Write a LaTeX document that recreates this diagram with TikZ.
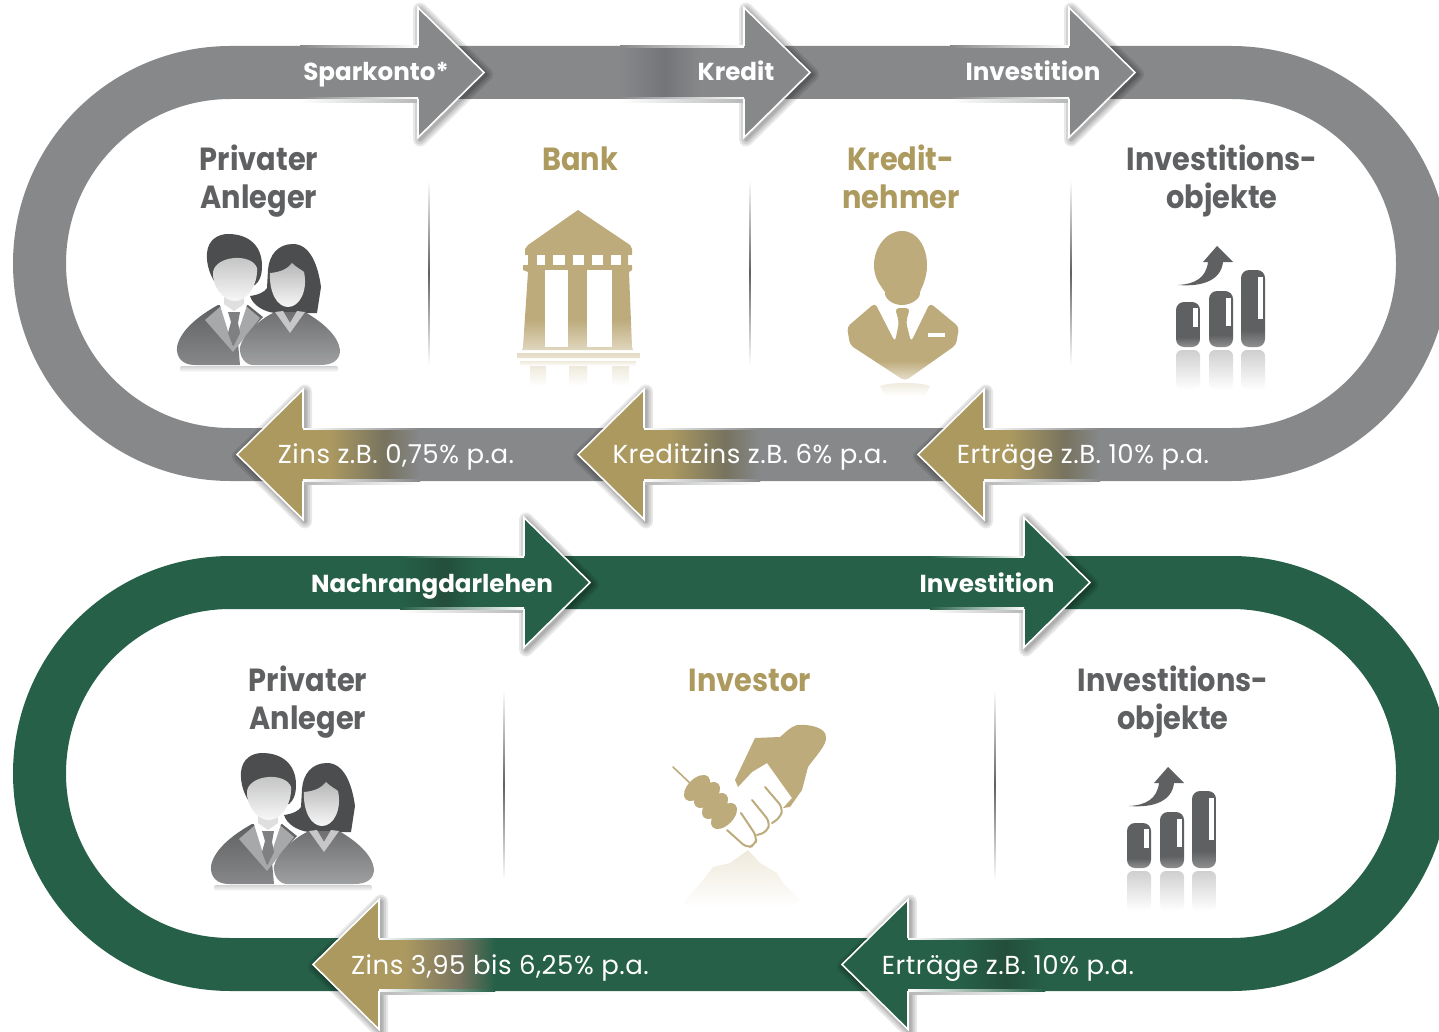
\documentclass[tikz,border=0pt]{standalone}
\usepackage{fontspec}
\setmainfont{Poppins}
\newfontfamily\titleFont{Poppins}[FakeStretch=0.9]
\newfontfamily\lightFont{Poppins}[LetterSpace=2]
\usetikzlibrary{shapes.geometric}
\definecolor{bandGray}{HTML}{86888A}
\definecolor{bandGreen}{HTML}{266048}
\definecolor{arrowGold}{HTML}{AB9960}
\definecolor{iconGold}{HTML}{BDAB7C}
\definecolor{fadeGold}{HTML}{E9E2CF}
\definecolor{textGold}{HTML}{AD9A5F}
\definecolor{textGray}{HTML}{5F6062}
\definecolor{patchGold}{HTML}{77735F}
\definecolor{patchGray}{HTML}{747578}
\definecolor{patchGreen}{HTML}{234E3B}
\pgfdeclareverticalshading{goldIcon}{100bp}{color(0bp)=(fadeGold); color(25bp)=(fadeGold); color(38bp)=(iconGold); color(100bp)=(iconGold)}
\pgfdeclareverticalshading{barIcon}{100bp}{color(0bp)=(textGray!70); color(25bp)=(textGray!70); color(36bp)=(textGray); color(100bp)=(textGray)}
\begin{document}
\begin{tikzpicture}
[x=0.5pt,y=-0.5pt,
ringDecorate/.style={line width=26.5pt},
whiteEdge/.style={white,line width=0.8pt,line join=miter},
titleDecorate/.style={font=\titleFont\fontsize{16}{19}\selectfont\bfseries,align=center,inner sep=0pt},
boldDecorate/.style={font=\fontsize{12.3}{15}\selectfont\bfseries,text=white,inner sep=0pt,anchor=base},
lightDecorate/.style={font=\lightFont\fontsize{13}{15}\selectfont,text=white,inner sep=0pt,anchor=base},
dividerDecorate/.style={top color=white,bottom color=white,middle color=textGray},
reflectGold/.style={top color=fadeGold!75,bottom color=white},
reflectGray/.style={top color=textGray!30,bottom color=white}]

\clip (0,0) rectangle (1439,1032);

 \foreach \ringy/\ringcol in {72.5/bandGray,582.5/bandGreen}
 {
          \draw[ringDecorate,draw=\ringcol] (230.5,\ringy) -- (1231.5,\ringy) arc[start angle=-90,end angle=90,radius=191] -- (230.5,\ringy+382) arc[start angle=90,end angle=270,radius=191] -- cycle;
 }

 \foreach \dx/\dtop/\dbot in {429/180/365,750/180/365,1071/180/365,504/690/880,995/690/880}
 {
          \shade[dividerDecorate] (\dx-0.7,\dtop) rectangle (\dx+0.7,\dbot);
 }

 \foreach \px/\py in {0/0,34/519}
 {
  \begin{scope}[shift={(\px,\py)}]
   \shade[top color=textGray!28,bottom color=white,rounded corners=1pt] (180,366) rectangle (338,372);
   \shade[top color=textGray!100,bottom color=textGray!75] (177,347) .. controls (180,330) and (200,315) .. (218,305) -- (248,305) -- (263,317) -- (238,343) -- (240,365) -- (195,365) .. controls (183,365) and (176,358) .. (177,347);
   \fill[textGray!55] (220,307) -- (247,307) -- (260,318) -- (233,352) -- (205,320) -- cycle;
   \fill[white] (220,305) -- (247,305) -- (233,347) -- cycle;
   \fill[textGray!80] (228,312) -- (240,312) -- (238,323) -- (240,333) -- (233,347) -- (228,333) -- (231,322) -- cycle;
   \fill[textGray!20] (224,292) -- (244,292) -- (244,304) -- (234,311) -- (224,304) -- cycle;
   \fill[textGray!80!black] (207,253) .. controls (208,240) and (218,234) .. (228,234) .. controls (248,234) and (262,245) .. (262,266) .. controls (262,276) and (259,282) .. (255,285) -- (217,285) .. controls (211,278) and (206,265) .. (207,253) -- cycle;
   \shade[top color=textGray!40,bottom color=textGray!5] (213,272) .. controls (216,255) and (252,253) .. (257,268) .. controls (258,285) and (247,301) .. (235,301) .. controls (222,301) and (212,285) .. (213,272) -- cycle;
   \fill[textGray!80!black] (250,296) .. controls (258,295) and (265,292) .. (267,288) -- (268,270) .. controls (269,255) and (278,244) .. (293,244) .. controls (310,244) and (318,265) .. (321,287) -- (317,313) -- (275,313) .. controls (265,312) and (253,306) .. (250,296) -- cycle;
   \shade[top color=textGray!45,bottom color=textGray!5] (270,273) .. controls (282,272) and (288,268) .. (292,263) .. controls (297,268) and (302,270) .. (304,272) .. controls (308,290) and (300,307) .. (288,307) .. controls (277,307) and (269,292) .. (270,273) -- cycle;
   \shade[top color=textGray!90,bottom color=textGray!60] (240,347) .. controls (243,335) and (258,320) .. (275,312) -- (305,312) .. controls (322,322) and (338,335) .. (340,350) .. controls (340,360) and (333,365) .. (320,365) -- (253,365) .. controls (245,365) and (239,356) .. (240,347) -- cycle;
   \fill[textGray!35] (275,312) -- (290,333) -- (305,312) -- (297,311) -- (290,323) -- (283,311) -- cycle;
  \end{scope}
 }

 \shade[shading=goldIcon] (578,210) -- (630,245) -- (632,249) -- (632,255) -- (628,255) -- (628,265) -- (632,265) -- (632,270) -- (629,272) -- (632,347) -- (633,350) -- (522,350) -- (523,347) -- (528,272) -- (523,270) -- (523,265) -- (528,265) -- (528,255) -- (525,255) -- (525,249) -- (528,245) -- cycle
 (517,353) rectangle (640,358);
 \foreach \wx/\wy/\ww/\wh in {537/255/8/10,553/255/12/10,573/255/11/10,592/255/11/10,611/255/10/10,545/270/23/77,587/270/25/77}
 {
          \fill[white] (\wx,\wy) rectangle (\wx+\ww,\wy+\wh);
 }
 \shade[reflectGold] (520,361) rectangle (636,366);
 \foreach \rx/\rw in {530/16,569/18,612/17}
 {
          \shade[reflectGold] (\rx,366) rectangle (\rx+\rw,386);
 }

 \shade[shading=goldIcon,rounded corners=2pt] (847,327) -- (875,303) -- (895,342) -- (899,322) -- (895,308) -- (910,308) -- (906,322) -- (911,342) -- (930,303) -- (959,327) -- (956,345) -- (905,381) -- (850,345) -- cycle;
 \fill[iconGold] (902,231) .. controls (918,231) and (927,248) .. (927,265) .. controls (927,278) and (922,287) .. (920,292) .. controls (921,298) and (912,305) .. (902,305) .. controls (892,305) and (884,298) .. (885,292) .. controls (880,285) and (874,278) .. (874,265) .. controls (874,248) and (886,231) .. (902,231) -- cycle;
 \fill[white] (928,333) rectangle (945,337);
 \shade[reflectGold] (880,386) .. controls (890,382) and (920,382) .. (930,386) -- (925,396) -- (885,396) -- cycle;

 \foreach \cx/\cy in {0/0,-49/521}
 {
  \begin{scope}[shift={(\cx,\cy)}]
   \foreach \bx/\by/\hx/\hy/\hb in {1176/302/1193/308/327,1209/291/1226/298/326,1241/270/1258/277/319}
   {
          \shade[shading=barIcon,rounded corners=4pt] (\bx,\by) rectangle (\bx+24,347);
          \fill[white] (\hx,\hy) rectangle (\hx+4.5,\hb);
          \shade[reflectGray,rounded corners=3pt] (\bx,350) rectangle (\bx+24,390);
   }
   \fill[textGray] (1178,285) .. controls (1195,284) and (1206,278) .. (1208,262) -- (1203,262) -- (1217,246) -- (1233,262) -- (1223,262) .. controls (1221,280) and (1203,287) .. (1178,285) -- cycle;
  \end{scope}
 }

 \fill[iconGold] (735,780) -- (755,738) -- (780,737) .. controls (785,733) and (790,727) .. (797,725) .. controls (808,724) and (826,727) .. (826,737) .. controls (827,745) and (815,757) .. (808,767) -- (802,790) -- (790,807) -- (783,808) -- (792,798) -- (767,763) -- (752,772) -- (738,787) -- cycle;
 \draw[iconGold,line width=0.8pt,line cap=round] (673,767) -- (692,785);
 \draw[iconGold,line width=1pt,line cap=round,rounded corners=3pt] (765,787) -- (783,808) -- (780,818) -- (772,823);
 \draw[iconGold,line width=1pt,line cap=round,rounded corners=3pt] (752,800) -- (770,822) -- (767,832) -- (757,835);
 \draw[iconGold,line width=1pt,line cap=round,rounded corners=3pt] (741,813) -- (757,837) -- (755,845) -- (747,848) -- (727,830);
 \foreach \lx/\ly in {697/788,707/795,715/806,724/816}
 {
          \fill[iconGold] (\lx,\ly) ellipse [x radius=8pt,y radius=4.6pt,rotate=45];
 }
 \shade[reflectGold] (748,850) -- (760,863) -- (777,873) -- (783,883) -- (800,900) -- (787,908) -- (697,908) -- (683,903) -- (703,880) -- (713,867) -- (730,863) -- cycle;

 \foreach \backx/\midy/\dir/\xa/\xb/\xc/\fcol/\pcol/\bcol in {
  418/72.5/1/340/340/300/bandGray/bandGray/bandGray,
  744/72.5/1/700/665/620/bandGray/patchGray/bandGray,
  1069/72.5/1/1000/1000/950/bandGray/bandGray/bandGray,
  303/454.5/-1/330/385/420/arrowGold/patchGold/bandGray,
  644/454.5/-1/670/725/760/arrowGold/patchGold/bandGray,
  984/454.5/-1/1010/1065/1100/arrowGold/patchGold/bandGray,
  524/582.5/1/475/445/400/bandGreen/patchGreen/bandGreen,
  1024/582.5/1/980/980/930/bandGreen/bandGreen/bandGreen,
  379/964.5/-1/405/460/495/arrowGold/patchGold/bandGreen,
  908/964.5/-1/960/1005/1045/bandGreen/patchGreen/bandGreen}
 {
  \pgfmathsetmacro{\tipx}{\backx+\dir*66}
  \pgfmathsetmacro{\shang}{90*\dir}
  \foreach \w in {7,5,3,1.5}
  {
          \draw[black,opacity=0.09,line width=\w pt,line join=round] (\backx+2,\midy-63) -- (\tipx+2,\midy+2) -- (\backx+2,\midy+67) -- cycle;
  }
  \shade[top color=white,bottom color=textGray!45,shading angle=\shang] (\backx,\midy+27) rectangle (\xc,\midy+30);
  \fill[\fcol] (\backx,\midy-65) -- (\tipx,\midy) -- (\backx,\midy+65) -- cycle;
  \fill[\fcol] (\backx,\midy-26.5) rectangle (\xa,\midy+26.5);
  \shade[top color=\pcol,bottom color=\fcol,shading angle=\shang] (\xa,\midy-26.5) rectangle (\xb,\midy+26.5);
  \shade[top color=\bcol,bottom color=\pcol,shading angle=\shang] (\xb,\midy-26.5) rectangle (\xc,\midy+26.5);
  \draw[whiteEdge] (\backx,\midy-26.5) -- (\backx,\midy-65) -- (\tipx,\midy) -- (\backx,\midy+65) -- (\backx,\midy+26.5);
  \shade[top color=\bcol,bottom color=white,shading angle=\shang] (\backx,\midy-26.5) rectangle (\xc,\midy-25);
  \shade[top color=\bcol,bottom color=white,shading angle=\shang] (\backx,\midy+25) rectangle (\xc,\midy+26.5);
 }

 \foreach \nm/\tx/\ty/\tcol/\txt in {
  anlegerA/259/181/textGray/{Privater\\Anleger},
  bank/580/159/textGold/{Bank},
  nehmer/901/177/textGold/{Kredit-\\nehmer},
  objekteA/1222/181/textGray/{Investitions-\\objekte},
  anlegerB/308/702/textGray/{Privater\\Anleger},
  investor/750/680/textGold/{Investor},
  objekteB/1173/702/textGray/{Investitions-\\objekte}}
 {
          \node (\nm) at (\tx,\ty) [titleDecorate,text=\tcol] {\txt};
 }

 \foreach \nm/\tx/\ty/\txt in {
  sparkonto/376/81/{Sparkonto*},
  kredit/736/81/{Kredit},
  investitionA/1033/81/{Investition},
  nachrang/432/592/{Nachrangdarlehen},
  investitionB/987/592/{Investition}}
 {
          \node (\nm) at (\tx,\ty) [boldDecorate] {\txt};
 }

 \foreach \nm/\tx/\ty/\txt in {
  zinsA/396/463/{Zins z.B. 0,75\% p.a.},
  kreditzins/750/463/{Kreditzins z.B. 6\% p.a.},
  ertragA/1083/463/{Erträge z.B. 10\% p.a.},
  zinsB/500/974/{Zins 3,95 bis 6,25\% p.a.},
  ertragB/1008/974/{Erträge z.B. 10\% p.a.}}
 {
          \node (\nm) at (\tx,\ty) [lightDecorate] {\txt};
 }
\end{tikzpicture}
\end{document}
